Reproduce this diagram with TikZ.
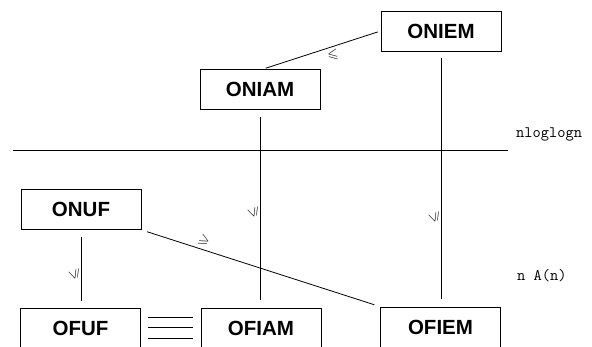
\documentclass[tikz,border=0pt]{standalone}
\usepackage{amssymb}
\usepackage{fontspec}
\newfontfamily\boxfont{Liberation Sans}
\begin{document}
\begin{tikzpicture}[x=1pt,y=-1pt,
  cls/.style={draw,line width=0.8pt,minimum width=120pt,minimum height=40pt,inner sep=0pt,
    font=\boxfont\bfseries\fontsize{20.5}{20.5}\selectfont},
  conn/.style={line width=0.8pt},
  rel/.style={inner sep=0pt,font=\fontsize{14}{14}\selectfont},
  cplx/.style={inner sep=0pt,anchor=base west,font=\ttfamily\fontsize{16}{16}\selectfont}]
\useasboundingbox (0,0) rectangle (592,346);
\clip (0,0) rectangle (592,346);
% nodes
\node[cls] (oniem) at (441,31) {ONIEM};
\node[cls] (oniam) at (260,89.5) {ONIAM};
\node[cls] (onuf) at (81,209.5) {ONUF};
\node[cls] (ofuf) at (80.5,328) {OFUF};
\node[cls] (ofiam) at (261,328) {OFIAM};
\node[cls] (ofiem) at (440.5,327) {OFIEM};
% complexity labels
\node[cplx] (nll) at (516,137) {nloglogn};
\node[cplx] (nan) at (517,280) {n A(n)};
% separating line
\coordinate (hl) at (13,150);
\coordinate (hr) at (508,150);
\draw[conn] (hl) -- (hr);
% connectors
\draw[conn,shorten <=3pt,shorten >=3pt] ([xshift=3pt]oniam.north) -- (oniem.west);
\draw[conn,shorten <=7pt,shorten >=8pt] (oniam.south) -- (oniam.south |- ofiam.north);
\draw[conn,shorten <=7pt,shorten >=8pt] (oniem.south) -- (oniem.south |- ofiem.north);
\draw[conn,shorten <=7pt,shorten >=7pt] (onuf.south) -- (onuf.south |- ofuf.north);
\draw[conn,shorten <=6pt,shorten >=6pt] (onuf.south east) -- (ofiem.north west);
% equivalence (triple line)
\coordinate (e1a) at (148,317); \coordinate (e1b) at (193,317);
\coordinate (e2a) at (148,327.5); \coordinate (e2b) at (193,327.5);
\coordinate (e3a) at (148,338); \coordinate (e3b) at (193,338);
\draw[conn] (e1a) -- (e1b);
\draw[conn] (e2a) -- (e2b);
\draw[conn] (e3a) -- (e3b);
% relation labels
\node[rel,rotate=10] (r1) at (333,55) {$\leqslant$};
\node[rel,rotate=-28] (r2) at (204,241) {$\geqslant$};
\node[rel,rotate=109] (r3) at (254,212) {$\leqslant$};
\node[rel,rotate=109] (r4) at (435,217) {$\leqslant$};
\node[rel,rotate=109] (r5) at (75,274) {$\leqslant$};
\end{tikzpicture}
\end{document}
